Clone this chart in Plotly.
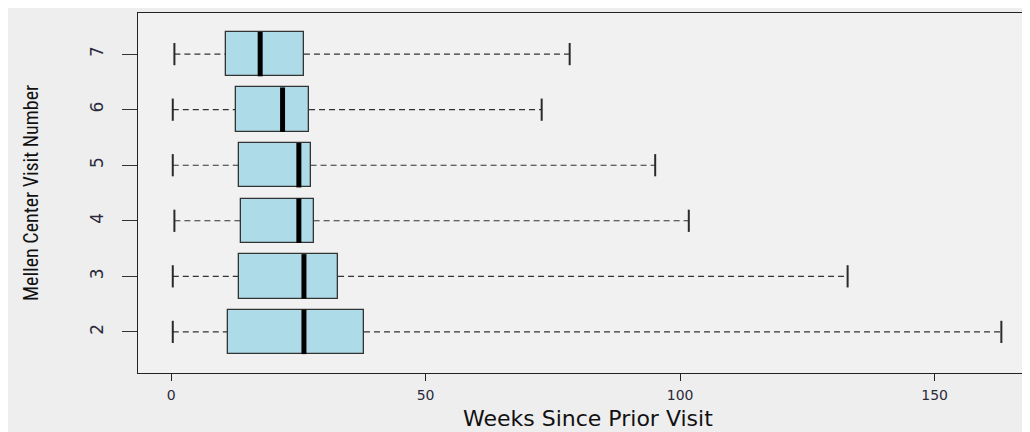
import plotly.graph_objects as go

# ---- data (weeks since prior visit) ----
visits = [2, 3, 4, 5, 6, 7]
lower_whisker = [0.33, 0.33, 0.65, 0.33, 0.33, 0.65]
q1 = [11.1, 13.4, 13.7, 13.4, 12.7, 10.8]
median = [26.1, 26.1, 25.1, 25.1, 21.9, 17.5]
q3 = [37.9, 32.8, 28.0, 27.4, 27.1, 26.1]
upper_whisker = [163.1, 132.9, 101.7, 95.1, 72.8, 78.3]
x_ticks = [0, 50, 100, 150]

BOX_W = 0.8
CAP_HALF = 0.2
MED_HALF = BOX_W / 2

fig = go.Figure()

# whiskers (dashed)
wx, wy = [], []
for v, lo, a, b, hi in zip(visits, lower_whisker, q1, q3, upper_whisker):
    wx += [lo, a, None, b, hi, None]
    wy += [v, v, None, v, v, None]
fig.add_trace(go.Scatter(x=wx, y=wy, mode="lines",
                         line=dict(color="#333333", width=1.1, dash="6px,4px"),
                         hoverinfo="skip", showlegend=False))

# staples
cx, cy = [], []
for v, lo, hi in zip(visits, lower_whisker, upper_whisker):
    cx += [lo, lo, None, hi, hi, None]
    cy += [v - CAP_HALF, v + CAP_HALF, None, v - CAP_HALF, v + CAP_HALF, None]
fig.add_trace(go.Scatter(x=cx, y=cy, mode="lines",
                         line=dict(color="#2a2a2a", width=2),
                         hoverinfo="skip", showlegend=False))

# boxes
fig.add_trace(go.Bar(orientation="h", y=visits,
                     x=[b - a for a, b in zip(q1, q3)], base=q1,
                     width=BOX_W,
                     marker=dict(color="#aedbe8", line=dict(color="#333333", width=1.3)),
                     showlegend=False))

# medians (thick)
mx, my = [], []
for v, m in zip(visits, median):
    mx += [m, m, None]
    my += [v - MED_HALF, v + MED_HALF, None]
fig.add_trace(go.Scatter(x=mx, y=my, mode="lines",
                         line=dict(color="#000000", width=5),
                         hoverinfo="skip", showlegend=False))

fig.update_layout(
    width=1030, height=432,
    margin=dict(l=130, r=0, t=5, b=67),
    paper_bgcolor="#eeeeee",
    plot_bgcolor="#f1f1f1",
    font=dict(family="DejaVu Sans, Arial, sans-serif", color="#222222"),
    bargap=0,
    xaxis=dict(range=[-6.5, 170.3], tickvals=x_ticks, ticktext=[str(t) for t in x_ticks],
               ticks="outside", ticklen=7, tickcolor="#222222", tickwidth=1.3,
               showgrid=False, zeroline=False,
               showline=True, linecolor="#222222", linewidth=1.3, mirror=True,
               tickfont=dict(size=14, color="#2a2a3a"), ticklabelstandoff=2),
    yaxis=dict(range=[1.26, 7.74], tickvals=visits, ticktext=[str(v) for v in visits],
               ticks="outside", ticklen=15, tickcolor="#333333", tickwidth=1.2,
               tickangle=-90, showgrid=False, zeroline=False,
               showline=True, linecolor="#222222", linewidth=1.3, mirror=False,
               tickfont=dict(size=17, color="#2a2a3a"), ticklabelstandoff=12),
    annotations=[
        dict(text="Weeks Since Prior Visit", xref="paper", yref="paper",
             x=0.5, y=0, xanchor="center", yanchor="middle", yshift=-45,
             showarrow=False,
             font=dict(size=22, family="DejaVu Sans, Arial, sans-serif", color="#111111")),
        dict(text="Mellen Center Visit Number", xref="paper", yref="paper",
             x=0, y=0.5, xanchor="center", yanchor="middle", xshift=-107,
             textangle=-90, showarrow=False,
             font=dict(size=20, family="Liberation Sans Narrow, Arial Narrow, Roboto Condensed, sans-serif",
                       color="#111111")),
    ],
)

fig.write_html("out.html")
